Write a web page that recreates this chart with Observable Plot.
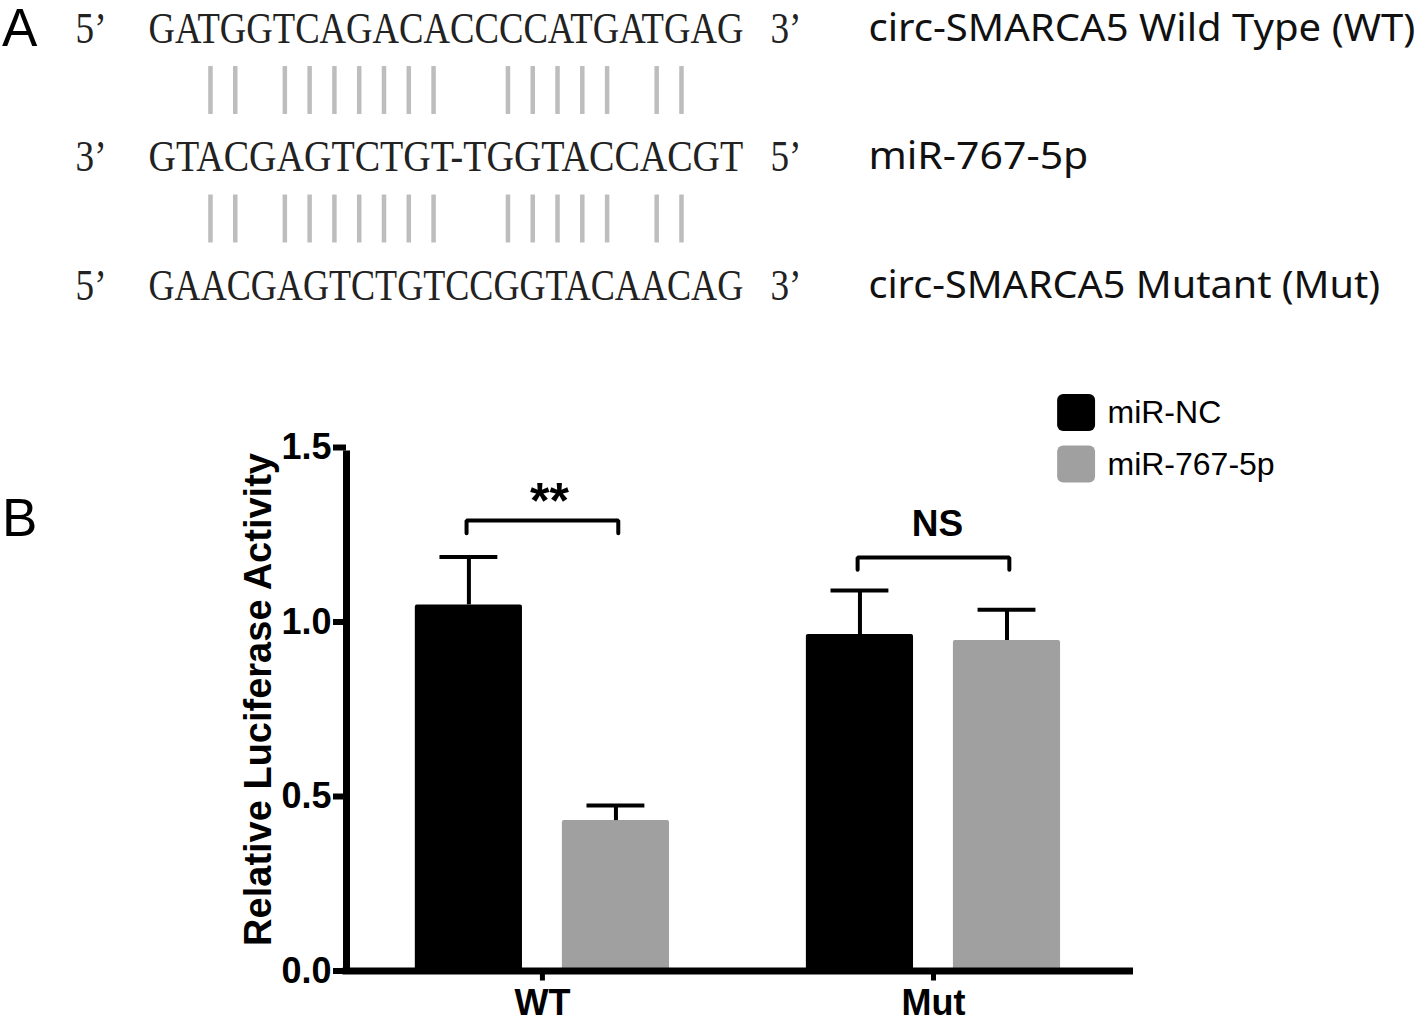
<!DOCTYPE html>
<html>
<head>
<meta charset="utf-8">
<script src="https://cdn.jsdelivr.net/npm/d3@7"></script>
<script src="https://cdn.jsdelivr.net/npm/@observablehq/plot@0.6"></script>
<style>
  html, body { margin: 0; padding: 0; background: #fff; overflow: hidden; }
  #page { position: relative; width: 1418px; height: 1020px; background: #fff; }
  #panelA { position: absolute; left: 0; top: 0; }
  #panelB { position: absolute; left: 0; top: 330px; }
  .plabel { position: absolute; font-family: "Liberation Sans", Arial, sans-serif; font-size: 53px; line-height: 1; color: #000; }
</style>
</head>
<body>
<div id="page">
  <div id="panelA"></div>
  <div id="panelB"></div>
  <div class="plabel" style="left:2px; top:1px;">A</div>
  <div class="plabel" style="left:2px; top:491px;">B</div>
</div>
<script>
// ---------------- Panel A data ----------------
const sequences = [
  "GATGGTCAGACACCCCATGATGAG",
  "GTACGAGTCTGT-TGGTACCACGT",
  "GAACGAGTCTGTCCGGTACAACAG"
];
const leftEnds = ["5’", "3’", "5’"];
const rightEnds = ["3’", "5’", "3’"];
const rowLabels = [
  "circ-SMARCA5 Wild Type (WT)",
  "miR-767-5p",
  "circ-SMARCA5 Mutant (Mut)"
];
const pairedPositions = [2, 3, 5, 6, 7, 8, 9, 10, 11, 14, 15, 16, 17, 18, 20, 21];

// ---------------- Panel B data ----------------
const groups = ["WT", "Mut"];
const seriesNames = ["miR-NC", "miR-767-5p"];
const ncMean = [1.049, 0.964];
const ncSem = [0.137, 0.126];
const mirMean = [0.431, 0.947];
const mirSem = [0.043, 0.088];
const sigLabels = ["**", "NS"];
const yTicks = [0, 0.5, 1.0, 1.5];
const yTitle = "Relative Luciferase Activity";

// ---------------- Panel A ----------------
const W = 1418;
const rowsA = sequences.map((seq, r) => ({
  row: r, seq, left: leftEnds[r], right: rightEnds[r], label: rowLabels[r]
}));
const pairs = [0, 1].flatMap(r => pairedPositions.map(p => ({r, p})));
const serif = "'Liberation Serif', 'DejaVu Serif', serif";
const sans = "'Noto Sans', 'Liberation Sans', sans-serif";

const chartA = Plot.plot({
  width: W,
  height: 330,
  marginLeft: 0, marginRight: 0, marginTop: 28, marginBottom: 45,
  x: {domain: [-5.970, 51.231], axis: null},
  y: {domain: [0, 2], reverse: true, axis: null},
  style: {background: "white", overflow: "visible"},
  marks: [
    Plot.ruleX(pairs, {x: d => d.p + 0.5, y1: d => d.r + 0.296, y2: d => d.r + 0.669, stroke: "#bdbdbd", strokeWidth: 4.5}),
    Plot.text(rowsA, {x: () => -2.94, y: "row", text: "left", textAnchor: "start", fontFamily: serif, fontSize: 44, fill: "#222"}),
    Plot.text(rowsA, {x: () => 0, y: "row", text: "seq", textAnchor: "start", fontFamily: serif, fontSize: 44, fill: "#222"}),
    Plot.text(rowsA, {x: () => 25.09, y: "row", text: "right", textAnchor: "start", fontFamily: serif, fontSize: 44, fill: "#222"}),
    Plot.text(rowsA, {x: () => 29.04, y: "row", text: "label", textAnchor: "start", fontFamily: sans, fontSize: 38, fill: "#111"})
  ]
});
document.getElementById("panelA").appendChild(chartA);

// condense/stretch the glyphs horizontally so they fit the column grid
const xA = chartA.scale("x");
const colW = xA.apply(1) - xA.apply(0);
const labelWidths = {};
rowLabels.forEach((l, i) => labelWidths[l] = [547, 220, 512][i]);
d3.select(chartA).selectAll("text").each(function() {
  const t = this.textContent;
  let target = null;
  if (sequences.includes(t)) target = colW * t.length;
  else if (leftEnds.includes(t) || rightEnds.includes(t)) target = colW * 1.25;
  else if (labelWidths[t]) target = labelWidths[t];
  if (target == null) return;
  const natural = this.getComputedTextLength();
  const bb = this.getBBox();
  const m = this.transform.baseVal.consolidate();
  const x0 = bb.x + (m ? m.matrix.e : 0);
  const s = target / natural;
  const g = document.createElementNS("http://www.w3.org/2000/svg", "g");
  g.setAttribute("transform", `translate(${x0},0) scale(${s},1) translate(${-x0},0)`);
  this.parentNode.insertBefore(g, this);
  g.appendChild(this);
});

// ---------------- Panel B ----------------
const barHalf = 0.137, seriesOffset = 0.188, capHalf = 0.074, bracketHalf = 0.194;
const xMin = -0.501, xMax = 1.5115;
const bars = groups.flatMap((g, i) => [
  {group: g, gi: i, series: seriesNames[0], x: i - seriesOffset, mean: ncMean[i], sem: ncSem[i]},
  {group: g, gi: i, series: seriesNames[1], x: i + seriesOffset, mean: mirMean[i], sem: mirSem[i]}
]);
const bracketTop = [1.291, 1.185];
const bracketLow = [1.254, 1.150];
const bracketPts = groups.flatMap((g, i) => [
  {g, x: i - bracketHalf, y: bracketLow[i]},
  {g, x: i - bracketHalf, y: bracketTop[i]},
  {g, x: i + bracketHalf, y: bracketTop[i]},
  {g, x: i + bracketHalf, y: bracketLow[i]}
]);
const sig = [
  {i: 0, text: sigLabels[0], y: 1.345, dxv: 0.018, size: 50},
  {i: 1, text: sigLabels[1], y: 1.279, dxv: 0.010, size: 37}
];
// legend rows (swatch extent in data units of the plot)
const legend = seriesNames.map((s, k) => ({series: s, y: [1.599, 1.451][k]}));
const swatchHalfX = 0.0485, swatchHalfY = 0.053;
const bold = "'Liberation Sans', Arial, sans-serif";

const chartB = Plot.plot({
  width: W,
  height: 690,
  marginLeft: 346, marginRight: 285, marginTop: 117, marginBottom: 49.5,
  x: {domain: [xMin, xMax]},
  y: {domain: [0, 1.5]},
  color: {domain: seriesNames, range: ["#000000", "#a0a0a0"]},
  style: {background: "white", overflow: "visible", fontFamily: bold, fontWeight: "bold", color: "#000"},
  marks: [
    Plot.rect(bars, {x1: d => d.x - barHalf, x2: d => d.x + barHalf, y1: 0, y2: "mean", fill: "series", rx: 2}),
    Plot.ruleX(bars, {x: "x", y1: "mean", y2: d => d.mean + d.sem, stroke: "black", strokeWidth: 4}),
    Plot.ruleY(bars, {y: d => d.mean + d.sem, x1: d => d.x - capHalf, x2: d => d.x + capHalf, stroke: "black", strokeWidth: 4}),
    Plot.line(bracketPts, {x: "x", y: "y", z: "g", stroke: "black", strokeWidth: 4, strokeLinejoin: "miter"}),
    Plot.text(sig, {x: d => d.i + d.dxv, y: "y", text: "text", fontSize: d => d.size, fontWeight: "bold", fill: "black"}),
    Plot.ruleX([xMin], {y1: 0, y2: 1.5, stroke: "black", strokeWidth: 7, insetTop: -2, insetBottom: -3.5}),
    Plot.ruleY([0], {stroke: "black", strokeWidth: 7, insetLeft: -3.5}),
    Plot.axisY({ticks: yTicks, tickFormat: d => d.toFixed(1), tickSize: 13, tickPadding: 2, strokeWidth: 6, fontSize: 36, fontWeight: "bold", label: null}),
    Plot.axisX({ticks: [0, 1], tickFormat: i => groups[i], tickSize: 10, tickPadding: 8, strokeWidth: 5, fontSize: 36, fontWeight: "bold", label: null}),
    Plot.text([yTitle], {x: () => -0.726, y: () => 0.778, text: d => d, rotate: -90, fontSize: 38, fontWeight: "bold", fill: "black"}),
    Plot.rect(legend, {x1: () => 1.366 - swatchHalfX, x2: () => 1.366 + swatchHalfX, y1: d => d.y - swatchHalfY, y2: d => d.y + swatchHalfY, fill: "series", rx: 6}),
    Plot.text(legend, {x: () => 1.445, y: "y", text: "series", textAnchor: "start", fontSize: 32, fontWeight: "normal", fill: "black"})
  ]
});
document.getElementById("panelB").appendChild(chartB);
</script>
</body>
</html>
